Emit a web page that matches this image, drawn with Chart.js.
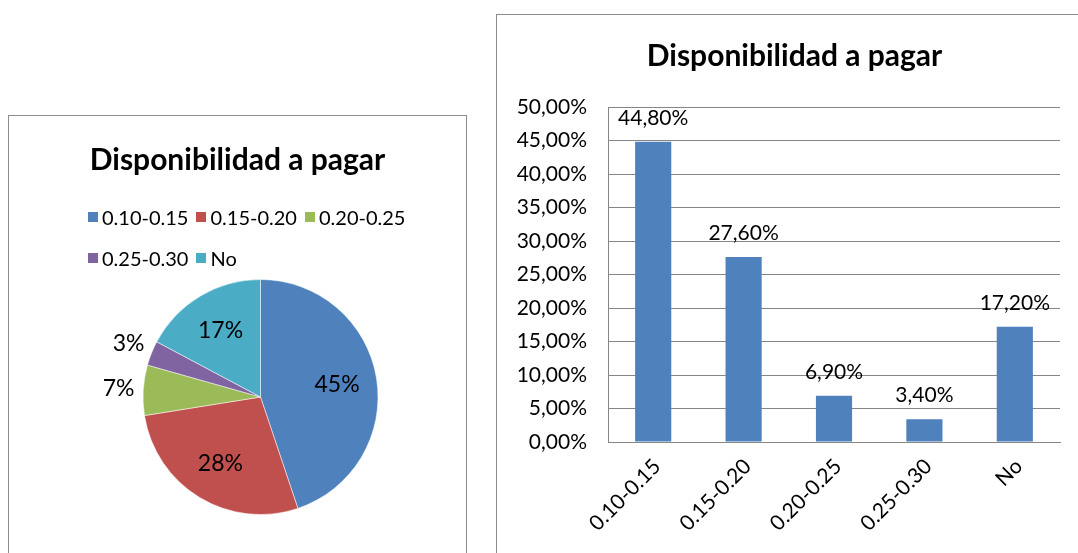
<!DOCTYPE html>
<html>
<head>
<meta charset="utf-8">
<title>Disponibilidad a pagar</title>
<script src="https://cdn.jsdelivr.net/npm/chart.js@4.4.0/dist/chart.umd.min.js"></script>
<style>
	body { margin:0; width:1078px; height:553px; overflow:hidden; background:#fff; position:relative; font-family:'Lato', sans-serif; }
	.box { position:absolute; border:1px solid #8c8c8c; background:#fff; }
	#pieBox { left:8px; top:115px; width:457px; height:460px; }
	#barBox { left:496px; top:14px; width:600px; height:560px; }
	#pieTitle { position:absolute; left:0; width:100%; top:24px; line-height:36px; text-align:center; font-weight:bold; font-size:30px; color:#000; }
	#pieLegend { position:absolute; left:79px; top:80px; width:340px; display:flex; flex-wrap:wrap; font-size:20px; color:#000; }
	.item { display:flex; align-items:center; height:41px; margin-right:8px; }
	.sw { width:10px; height:10px; margin-right:4px; }
	canvas { position:absolute; left:0; top:0; }
</style>
</head>
<body>
<div class="box" id="pieBox">
	<canvas id="pieChart" width="457" height="437"></canvas>
	<div id="pieTitle">Disponibilidad a pagar</div>
	<div id="pieLegend"></div>
</div>
<div class="box" id="barBox">
	<canvas id="barChart" width="595" height="538"></canvas>
</div>
<script type="text/javascript">
	// datos
	var categories = ['0.10-0.15', '0.15-0.20', '0.20-0.25', '0.25-0.30', 'No'];
	var values = [44.8, 27.6, 6.9, 3.4, 17.2];
	var sliceColors = ['#4F81BD', '#C0504D', '#9BBB59', '#8064A2', '#4BACC6'];
	var yTicks = [0, 5, 10, 15, 20, 25, 30, 35, 40, 45, 50];
	var chartTitle = 'Disponibilidad a pagar';

	var FONT = 'Lato';
	function pct(v) { return v.toFixed(2).replace('.', ',') + '%'; }

	// leyenda del pastel
	var legend = document.getElementById('pieLegend');
	categories.forEach(function(c, i) {
		var item = document.createElement('div');
		item.className = 'item';
		var sw = document.createElement('span');
		sw.className = 'sw';
		sw.style.background = sliceColors[i];
		item.appendChild(sw);
		item.appendChild(document.createTextNode(c));
		legend.appendChild(item);
	});

	// etiquetas de porcentaje en el pastel
	var pieLabels = {
		id: 'pieLabels',
		afterDatasetsDraw: function(chart) {
			var ctx = chart.ctx;
			var meta = chart.getDatasetMeta(0);
			var total = values.reduce(function(a, b) { return a + b; }, 0);
			ctx.save();
			ctx.font = '23px ' + FONT;
			ctx.fillStyle = '#000';
			ctx.textAlign = 'center';
			ctx.textBaseline = 'middle';
			meta.data.forEach(function(arc, i) {
				var p = arc.getProps(['x', 'y', 'startAngle', 'endAngle', 'outerRadius'], true);
				var mid = (p.startAngle + p.endAngle) / 2;
				var k = values[i] < 10 ? 1.21 : 0.66;
				ctx.fillText(Math.round(values[i] / total * 100) + '%',
					p.x + Math.cos(mid) * p.outerRadius * k,
					p.y + Math.sin(mid) * p.outerRadius * k);
			});
			ctx.restore();
		}
	};

	new Chart(document.getElementById('pieChart'), {
		type: 'pie',
		data: {
			labels: categories,
			datasets: [{ data: values, backgroundColor: sliceColors, borderColor: '#ffffff', borderWidth: 0.5 }]
		},
		options: {
			responsive: false,
			animation: false,
			radius: 117.5,
			layout: { padding: { left: 121, right: 75, top: 151, bottom: 26 } },
			plugins: { legend: { display: false }, tooltip: { enabled: false } }
		},
		plugins: [pieLabels]
	});

	// etiquetas sobre las barras + titulo centrado en todo el cuadro
	var barLabels = {
		id: 'barLabels',
		afterDatasetsDraw: function(chart) {
			var ctx = chart.ctx;
			var meta = chart.getDatasetMeta(0);
			ctx.save();
			ctx.font = '21px ' + FONT;
			ctx.fillStyle = '#000';
			ctx.textAlign = 'center';
			ctx.textBaseline = 'middle';
			meta.data.forEach(function(bar, i) {
				ctx.fillText(pct(values[i]), bar.x, bar.y - 24);
			});
			ctx.font = 'bold 30px ' + FONT;
			ctx.fillText(chartTitle, chart.width / 2, 41);
			ctx.restore();
		}
	};

	new Chart(document.getElementById('barChart'), {
		type: 'bar',
		data: {
			labels: categories,
			datasets: [{ data: values, backgroundColor: '#4F81BD', categoryPercentage: 1, barPercentage: 0.4 }]
		},
		options: {
			responsive: false,
			animation: false,
			layout: { padding: { left: 17, right: 32, top: 92, bottom: 0 } },
			plugins: {
				legend: { display: false },
				tooltip: { enabled: false }
			},
			scales: {
				y: {
					min: 0, max: 50,
					afterBuildTicks: function(s) { s.ticks = yTicks.map(function(v) { return { value: v }; }); },
					afterFit: function(s) { s.width = 94; },
					ticks: { callback: function(v) { return pct(v); }, color: '#000', font: { family: FONT, size: 21 }, padding: 21 },
					grid: { color: '#868686', drawTicks: false },
					border: { color: '#868686' }
				},
				x: {
					afterFit: function(s) { s.height = 111; },
					ticks: { minRotation: 45, maxRotation: 45, color: '#000', font: { family: FONT, size: 21 }, padding: 12, labelOffset: 4 },
					grid: { display: false, drawTicks: false },
					border: { color: '#868686' }
				}
			}
		},
		plugins: [barLabels]
	});
</script>
</body>
</html>
